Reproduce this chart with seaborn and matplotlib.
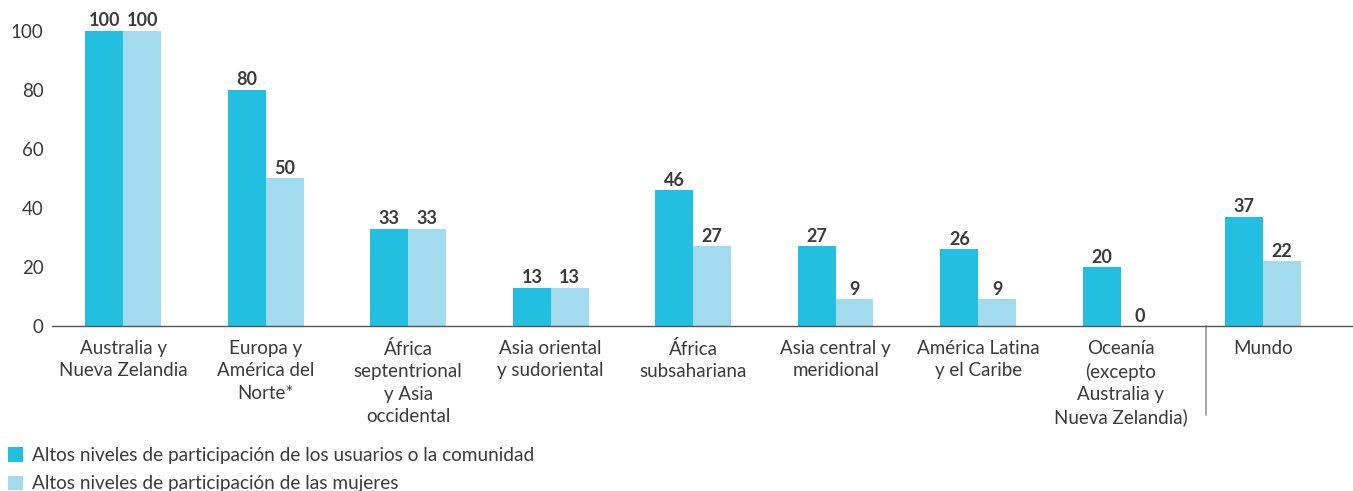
import pandas as pd
import seaborn as sns
import matplotlib.pyplot as plt
from matplotlib.patches import Patch

regions = [
    "Australia y\nNueva Zelandia",
    "Europa y\nAmérica del\nNorte*",
    "África\nseptentrional\ny Asia\noccidental",
    "Asia oriental\ny sudoriental",
    "África\nsubsahariana",
    "Asia central y\nmeridional",
    "América Latina\ny el Caribe",
    "Oceanía\n(excepto\nAustralia y\nNueva Zelandia)",
    "Mundo",
]
community = [100, 80, 33, 13, 46, 27, 26, 20, 37]
women = [100, 50, 33, 13, 27, 9, 9, 0, 22]
series_names = [
    "Altos niveles de participación de los usuarios o la comunidad",
    "Altos niveles de participación de las mujeres",
]
colors = ["#22BFE0", "#A3DBEE"]
text_color = "#3b3b3b"

df = pd.DataFrame({
    "region": regions * 2,
    "value": community + women,
    "serie": [series_names[0]] * len(regions) + [series_names[1]] * len(regions),
})

sns.set_style("white")
plt.rcParams["font.family"] = ["Lato", "DejaVu Sans"]

fig = plt.figure(figsize=(13.53, 4.91), dpi=100)
ax = fig.add_axes([52 / 1353, 165 / 491, 1301 / 1353, 310 / 491])

sns.barplot(data=df, x="region", y="value", hue="serie", palette=colors,
            width=0.53, saturation=1, linewidth=0, ax=ax, legend=False)

for cont in ax.containers:
    ax.bar_label(cont, fontsize=13, fontweight="bold", color=text_color, padding=1)

ax.set_ylim(0, 105)
ax.set_xlim(-0.5, 8.63)
ax.set_yticks([0, 20, 40, 60, 80, 100])
ax.tick_params(axis="both", length=0, labelsize=13.5, colors=text_color)
ax.tick_params(axis="x", pad=10)
ax.tick_params(axis="y", pad=6)
for lbl in ax.get_xticklabels():
    lbl.set_linespacing(1.38)
ax.set_xlabel("")
ax.set_ylabel("")
for s in ["top", "right", "left"]:
    ax.spines[s].set_visible(False)
ax.spines["bottom"].set_color("#555555")
ax.spines["bottom"].set_linewidth(1)

# separator before "Mundo"
ax.plot([7.6, 7.6], [0, -30], color="#999999", lw=1.2, clip_on=False)

handles = [Patch(facecolor=c, edgecolor="none") for c in colors]
fig.legend(handles, series_names, loc="upper left", bbox_to_anchor=(0.0, 0.105),
           frameon=False, fontsize=13.7, handlelength=0.8, handleheight=0.8,
           handletextpad=0.5, labelspacing=0.6, borderaxespad=0,
           labelcolor=text_color)

fig.savefig("out.png", dpi=100)
